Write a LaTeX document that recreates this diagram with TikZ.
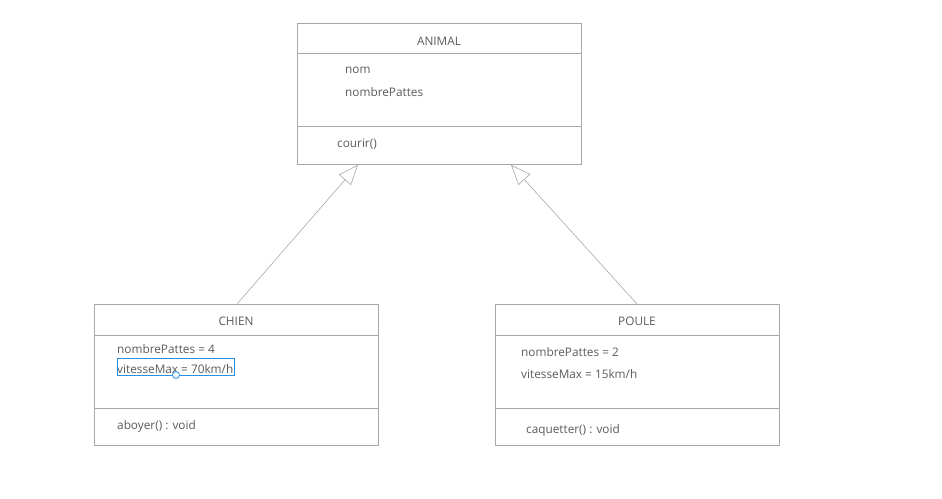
\documentclass[tikz,border=0pt]{standalone}
\usepackage{fontspec}
\setmainfont{Open Sans}
\usetikzlibrary{arrows.meta,calc}
\definecolor{umlline}{HTML}{A8A8A8}
\definecolor{umltext}{HTML}{5A5A5A}
\definecolor{selblue}{HTML}{2A8FE0}
\begin{document}
\begin{tikzpicture}[x=1pt,y=-1pt,
  classbox/.style={draw=umlline,line width=0.8pt,rectangle,minimum width=284pt,minimum height=141pt,anchor=north west,inner sep=0pt},
  divider/.style={draw=umlline,line width=0.8pt},
  lbl/.style={text=umltext,font=\fontsize{11.8}{13}\selectfont,inner sep=0pt,anchor=west,yshift=-1.5pt},
  title/.style={text=umltext,font=\fontsize{11.8}{13}\selectfont,inner sep=0pt,yshift=-1pt},
  inherit/.style={draw=umlline,line width=0.6pt,-{Triangle[open,length=20pt,width=16pt,fill=white]}}]
\useasboundingbox (0,0) rectangle (942,498);

% ANIMAL class
\node[classbox] (animal) at (297,23) {};
\draw[divider] (297,53) -- (581,53);
\draw[divider] (297,126) -- (581,126);
\node[title] (animalT) at (439,40) {ANIMAL};
\node[lbl] (a1) at (345,69) {nom};
\node[lbl] (a2) at (345,91) {nombrePattes};
\node[lbl] (a3) at (337,143) {courir()};

% CHIEN class
\node[classbox] (chien) at (94,304) {};
\draw[divider] (94,335) -- (378,335);
\draw[divider] (94,408) -- (378,408);
\node[title] (chienT) at (236,320) {CHIEN};
\node[lbl] (c1) at (117,348) {nombrePattes = 4};
\node[lbl] (c2) at (117,368) {vitesseMax = 70km/h};
\node[lbl] (c3) at (117,425) {aboyer() : void};
% selection frame around the edited attribute
\draw[selblue,line width=0.8pt] (117,358) rectangle (234.5,375);
\draw[selblue,line width=0.8pt,fill=white] (176,375) circle (3.5);

% POULE class
\node[classbox] (poule) at (495,304) {};
\draw[divider] (495,335) -- (779,335);
\draw[divider] (495,408) -- (779,408);
\node[title] (pouleT) at (637,320) {POULE};
\node[lbl] (p1) at (521,351) {nombrePattes = 2};
\node[lbl] (p2) at (521,373) {vitesseMax = 15km/h};
\node[lbl] (p3) at (526,429) {caquetter() : void};

% inheritance links
\coordinate (chienTop) at ($(chien.north west)+(143,0)$);
\coordinate (pouleTop) at ($(poule.north west)+(142,0)$);
\coordinate (animalL) at ($(animal.south west)+(61,0)$);
\coordinate (animalR) at ($(animal.south west)+(214,0)$);
\draw[inherit] (chienTop) -- (animalL);
\draw[inherit] (pouleTop) -- (animalR);
\end{tikzpicture}
\end{document}
